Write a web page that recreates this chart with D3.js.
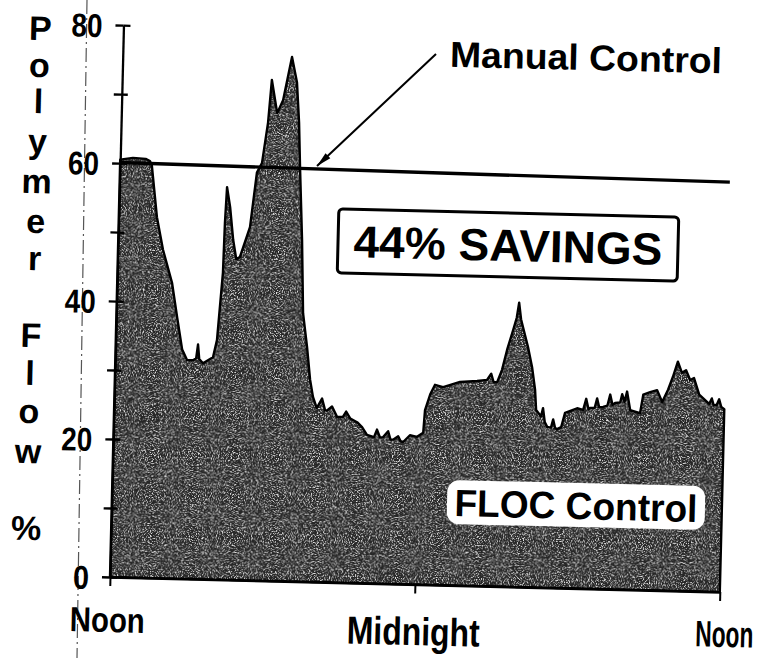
<!DOCTYPE html>
<html>
<head>
<meta charset="utf-8">
<script src="https://cdn.jsdelivr.net/npm/d3@7"></script>
<style>
html,body{margin:0;padding:0;background:#fff;}
svg{display:block;}
</style>
</head>
<body>
<svg id="chart" width="760" height="658"></svg>
<script>
// ---------------- DATA ----------------
const flocHours = [0.00,0.50,1.00,1.17,1.25,1.50,1.77,2.16,2.39,2.62,2.82,3.06,3.18,3.24,3.30,3.45,3.84,3.98,4.15,4.18,4.23,4.37,4.52,4.66,4.80,5.17,5.39,5.58,5.78,5.89,6.13,6.35,6.66,6.88,7.00,7.08,7.23,7.34,7.53,7.68,7.81,7.97,8.17,8.30,8.38,8.57,8.78,9.00,9.13,9.30,9.57,9.77,9.97,10.25,10.36,10.48,10.60,10.80,10.90,11.00,11.20,11.30,11.40,11.66,11.94,12.18,12.23,12.42,12.60,12.92,13.58,14.25,14.64,14.80,14.90,15.04,15.22,15.40,15.62,15.75,15.83,15.92,16.00,16.22,16.40,16.54,16.60,16.80,16.87,16.95,17.05,17.20,17.28,17.36,17.44,17.60,17.74,18.21,18.45,18.56,18.66,18.72,18.90,18.99,19.08,19.23,19.40,19.50,19.60,19.70,19.90,19.97,20.07,20.16,20.30,20.69,20.80,21.07,21.34,21.55,21.77,21.95,22.13,22.30,22.46,22.63,22.78,23.00,23.40,23.50,23.58,23.70,23.79,23.88,24.00];
const flocValues = [60.5,60.8,60.7,60.4,59.8,52.3,47.6,42.8,37.9,33.2,31.7,31.7,32.0,34.0,31.9,31.3,32.2,34.7,44.5,51.7,56.9,54.0,49.3,46.5,46.8,51.2,59.1,60.5,66.4,72.6,67.8,69.7,76.0,72.3,66.5,60.1,49.5,38.9,34.0,29.3,26.8,25.2,26.6,24.9,24.9,25.5,24.0,24.0,24.8,23.8,23.3,22.6,21.5,21.2,22.3,21.2,21.2,22.1,20.9,20.9,21.4,20.7,20.6,21.6,21.4,22.0,25.3,27.6,29.0,28.7,29.5,29.7,29.9,30.8,29.6,29.6,31.4,34.3,37.2,39.0,41.2,38.8,37.7,34.8,31.9,28.6,25.7,24.8,26.0,24.0,23.3,23.2,24.4,23.2,23.0,23.3,25.4,26.1,25.9,27.5,26.0,26.2,26.2,27.6,26.3,26.4,26.6,28.2,26.7,27.0,27.1,28.3,27.2,28.7,26.0,25.6,28.3,28.7,29.0,27.3,29.1,31.0,33.2,31.6,32.0,30.6,30.9,28.5,27.2,28.0,27.0,27.1,27.9,26.8,26.5];
const manualHours = [0, 12.6, 24];
const manualValues = [60.1, 59.7, 59.4];
const yTickValues = [0, 20, 40, 60, 80];
const yMinorTickValues = [10, 30, 50, 70];
const xTickValues = [0, 12, 24];
const xTickLabels = ["Noon", "Midnight", "Noon"];
const yTitleLetters = ["P","o","l","y","m","e","r","F","l","o","w","%"];
const savingsText = "44% SAVINGS";
const manualLabel = "Manual Control";
const flocLabel = "FLOC Control";

// ---------------- LAYOUT ----------------
const FONT = "'Liberation Sans', Arial, Helvetica, sans-serif";
const TILT = 1.4;           // the scanned page is slightly rotated
const OX = 110, OY = 577;   // plot origin (rotation centre)
const svg = d3.select("#chart").style("font-family", FONT);

const x = d3.scaleLinear().domain([0, 24]).range([110, 720]);
const y = d3.scaleLinear().domain([0, 80]).range([577, 25]);

const placed = (X, Y, sy = 1) => `translate(${X},${Y}) rotate(${TILT}) scale(1,${sy})`;

// grain filter to imitate the photocopied halftone fill
const defs = svg.append("defs");
const f = defs.append("filter").attr("id", "grain")
  .attr("x", 0).attr("y", 0).attr("width", "100%").attr("height", "100%");
f.append("feTurbulence").attr("type", "fractalNoise").attr("baseFrequency", "0.85")
  .attr("numOctaves", 2).attr("seed", 7).attr("result", "noise");
f.append("feColorMatrix").attr("in", "noise").attr("type", "matrix")
  .attr("values", "0 0 0 0 0.8  0 0 0 0 0.8  0 0 0 0 0.8  4.5 0 0 0 -2.2")
  .attr("result", "specks");
f.append("feComposite").attr("in", "specks").attr("in2", "SourceGraphic").attr("operator", "in");

// fold line of the scanned page
svg.append("line")
  .attr("x1", 87).attr("y1", 0).attr("x2", 77).attr("y2", 658)
  .attr("stroke", "#555").attr("stroke-width", 1.2)
  .attr("stroke-dasharray", "14,4,2,4");

const g = svg.append("g").attr("transform", `rotate(${TILT},${OX},${OY})`);

const flocData = flocHours.map((h, i) => ({ h, v: flocValues[i] }));
const area = d3.area().x(d => x(d.h)).y0(y(0)).y1(d => y(d.v));

g.append("path").datum(flocData).attr("d", area).attr("fill", "#262626");
g.append("path").datum(flocData).attr("d", area).attr("fill", "#000").attr("filter", "url(#grain)");
g.append("path").datum(flocData).attr("d", area)
  .attr("fill", "none").attr("stroke", "#000").attr("stroke-width", 2.4).attr("stroke-linejoin", "round");

// x axis
const xAxis = g.append("g").attr("transform", `translate(0,${y(0)})`)
  .call(d3.axisBottom(x).tickValues(xTickValues).tickSizeInner(9).tickSizeOuter(0).tickFormat(""));
xAxis.select(".domain").attr("stroke", "#000").attr("stroke-width", 2.5);
xAxis.selectAll(".tick line").attr("stroke", "#000").attr("stroke-width", 2);

// y axis (major)
const yAxis = g.append("g").attr("transform", `translate(${x(0)},0)`)
  .call(d3.axisLeft(y).tickValues(yTickValues).tickSizeInner(8).tickSizeOuter(0).tickPadding(13).tickFormat(d3.format("d")));
yAxis.attr("font-family", FONT);
yAxis.select(".domain").attr("stroke", "#000").attr("stroke-width", 2.3);
yAxis.selectAll(".tick line").attr("stroke", "#000").attr("stroke-width", 2.4);
yAxis.selectAll(".tick").append("line").attr("x1", 0).attr("x2", 7).attr("stroke", "#000").attr("stroke-width", 2.4);
yAxis.selectAll(".tick text")
  .attr("font-size", 33).attr("font-weight", "bold").attr("fill", "#000")
  .attr("textLength", d => d >= 10 ? 31 : 16).attr("lengthAdjust", "spacingAndGlyphs")
  .attr("dy", "0.36em");

// y axis (minor)
const yMinor = g.append("g").attr("transform", `translate(${x(0)},0)`)
  .call(d3.axisLeft(y).tickValues(yMinorTickValues).tickSizeInner(8).tickSizeOuter(0).tickFormat(""));
yMinor.select(".domain").remove();
yMinor.selectAll(".tick line").attr("stroke", "#000").attr("stroke-width", 2.4);
yMinor.selectAll(".tick").append("line").attr("x1", 0).attr("x2", 6).attr("stroke", "#000").attr("stroke-width", 2.4);

// manual control line
const manualData = manualHours.map((h, i) => ({ h, v: manualValues[i] }));
g.append("path").datum(manualData)
  .attr("d", d3.line().x(d => x(d.h)).y(d => y(d.v)))
  .attr("fill", "none").attr("stroke", "#000").attr("stroke-width", 3.4);

// vertical y title, letter by letter
const letterY = [42, 79, 115, 155, 195, 235, 272, 349, 387, 425, 465, 542];
g.append("g").selectAll("text").data(yTitleLetters).join("text")
  .attr("x", (d, i) => i < 7 ? 27 : 25)
  .attr("y", (d, i) => letterY[i])
  .attr("text-anchor", "middle")
  .attr("font-size", 34).attr("font-weight", "bold").attr("fill", "#000")
  .text(d => d);

// x tick labels (screen positions: centre x, baseline y, width, font size, vertical stretch)
const xLabelPos = [[107, 632, 75, 29, 1.2], [413, 645, 133, 32, 1.22], [724, 647, 58, 23, 1.6]];
svg.append("g").selectAll("text").data(xTickLabels).join("text")
  .attr("transform", (d, i) => placed(xLabelPos[i][0], xLabelPos[i][1], xLabelPos[i][4]))
  .attr("text-anchor", "middle").attr("font-weight", "bold").attr("fill", "#000")
  .attr("font-size", (d, i) => xLabelPos[i][3])
  .attr("textLength", (d, i) => xLabelPos[i][2]).attr("lengthAdjust", "spacingAndGlyphs")
  .text(d => d);

// 44% SAVINGS box
const sav = svg.append("g").attr("transform", placed(508, 245));
sav.append("rect").attr("x", -170).attr("y", -32).attr("width", 340).attr("height", 64).attr("rx", 4)
  .attr("fill", "#fff").attr("stroke", "#000").attr("stroke-width", 3);
sav.append("text").attr("x", 0).attr("y", 16).attr("text-anchor", "middle")
  .attr("font-size", 45).attr("font-weight", "bold").attr("fill", "#000")
  .attr("textLength", 309).attr("lengthAdjust", "spacingAndGlyphs").text(savingsText);

// FLOC Control label
const floc = svg.append("g").attr("transform", placed(576, 505));
floc.append("rect").attr("x", -129).attr("y", -22).attr("width", 258).attr("height", 44).attr("rx", 12)
  .attr("fill", "#fff");
floc.append("text").attr("x", 0).attr("y", 14).attr("text-anchor", "middle")
  .attr("font-size", 38).attr("font-weight", "bold").attr("fill", "#000")
  .attr("textLength", 243).attr("lengthAdjust", "spacingAndGlyphs").text(flocLabel);

// Manual Control label with leader arrow
svg.append("g").attr("transform", placed(586, 57))
  .append("text").attr("x", 0).attr("y", 13).attr("text-anchor", "middle")
  .attr("font-size", 36).attr("font-weight", "bold").attr("fill", "#000")
  .attr("textLength", 272).attr("lengthAdjust", "spacingAndGlyphs").text(manualLabel);

const tip = [317, 166], tail = [436, 54];
svg.append("line").attr("x1", tip[0]).attr("y1", tip[1]).attr("x2", tail[0]).attr("y2", tail[1])
  .attr("stroke", "#000").attr("stroke-width", 2);
{
  const dx = tail[0] - tip[0], dy = tail[1] - tip[1], L = Math.hypot(dx, dy);
  const ux = dx / L, uy = dy / L, px = -uy, py = ux;
  const bx = tip[0] + ux * 15, by = tip[1] + uy * 15;
  svg.append("path")
    .attr("d", `M${tip[0]},${tip[1]}L${bx + px * 3.5},${by + py * 3.5}L${bx - px * 3.5},${by - py * 3.5}Z`)
    .attr("fill", "#000");
}
</script>
</body>
</html>
